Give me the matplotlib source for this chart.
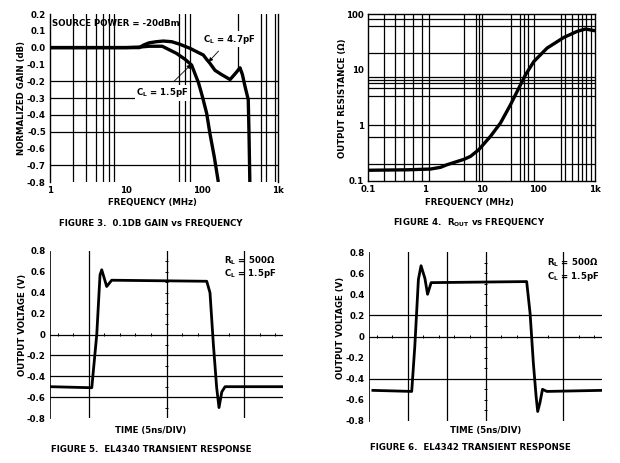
import matplotlib
matplotlib.use("Agg")
import matplotlib.pyplot as plt
import numpy as np

plt.rcParams['font.family'] = ['DejaVu Sans']
plt.rcParams['font.weight'] = 'bold'
plt.rcParams['mathtext.fontset'] = 'dejavusans'
plt.rcParams['mathtext.default'] = 'bf'

# ---------------- data ----------------
# Figure 3: normalized gain vs frequency
freq_15 = [1, 5, 10, 15, 20, 30, 46, 60, 73, 90, 101, 115, 127, 145, 164]
gain_15 = [0.0, 0.0, 0.0, 0.003, 0.008, 0.008, -0.034, -0.07, -0.104, -0.21, -0.29, -0.39, -0.51, -0.65, -0.80]
freq_47 = [1, 10, 15, 17, 20, 25, 31, 40, 51, 70, 90, 104, 115, 127, 148, 180, 234, 280, 316, 340, 369, 406, 415, 426]
gain_47 = [0.0, 0.0, 0.0, 0.015, 0.028, 0.035, 0.039, 0.035, 0.02, -0.005, -0.03, -0.044, -0.07, -0.093, -0.135,
           -0.16, -0.19, -0.15, -0.12, -0.16, -0.233, -0.31, -0.5, -0.80]
gain_yticks = [0.2, 0.1, 0.0, -0.1, -0.2, -0.3, -0.4, -0.5, -0.6, -0.7, -0.8]
freq_ticks = [1, 10, 100, 1000]
freq_ticklabels = ['1', '10', '100', '1k']

# Figure 4: output resistance vs frequency
rout_freq = [0.1, 0.5, 1.26, 1.89, 2.47, 3.47, 4.9, 6.4, 8.95, 14.4, 21.6, 32.4, 45.5, 59.7, 83.6, 143, 283, 486, 682, 1000]
rout_ohm = [0.156, 0.159, 0.164, 0.176, 0.196, 0.219, 0.245, 0.277, 0.365, 0.635, 1.1, 2.34, 4.68, 8.1, 14.0,
            24.4, 38.0, 48.8, 53.7, 50.0]
rout_xticks = [0.1, 1, 10, 100, 1000]
rout_xticklabels = ['0.1', '1', '10', '100', '1k']
rout_yticks = [0.1, 1, 10, 100]
rout_yticklabels = ['0.1', '1', '10', '100']

# Figure 5: EL4340 transient (time in ns, volts)
t_4340 = [0, 2.69, 3.01, 3.22, 3.33, 3.45, 3.65, 3.97, 10.09, 10.3, 10.52, 10.73, 10.88, 11.06, 11.27, 15]
v_4340 = [-0.5, -0.51, 0.0, 0.57, 0.62, 0.56, 0.46, 0.52, 0.51, 0.40, -0.1, -0.51, -0.70, -0.55, -0.5, -0.5]

# Figure 6: EL4342 transient
t_4342 = [0.25, 2.75, 2.95, 3.18, 3.35, 3.6, 3.77, 4.0, 10.15, 10.37, 10.58, 10.76, 10.86, 11.0, 11.17, 11.45, 14.98]
v_4342 = [-0.51, -0.52, -0.09, 0.54, 0.67, 0.55, 0.40, 0.51, 0.52, 0.22, -0.25, -0.57, -0.71, -0.63, -0.50, -0.52, -0.51]
volt_ticks = [0.8, 0.6, 0.4, 0.2, 0, -0.2, -0.4, -0.6, -0.8]
volt_ticklabels = ['0.8', '0.6', '0.4', '0.2', '0', '-0.2', '-0.4', '-0.6', '-0.8']

FS = 6.2
LW_GRID = 0.9

fig = plt.figure(figsize=(6.2, 4.63), dpi=100)

def fx(px):
    return px / 620.0

def fy(py):
    return 1 - py / 463.0

def axes_px(l, t, r, b):
    return fig.add_axes([fx(l), fy(b), (r - l) / 620.0, (b - t) / 463.0])

# ---------- Figure 3 ----------
ax1 = axes_px(50, 14, 278, 182)
ax1.set_xscale('log')
ax1.set_xlim(1, 1000)
ax1.set_ylim(-0.8, 0.2)
for x in [2, 3, 4, 5, 6, 7, 50, 60, 70, 600, 700, 900]:
    ax1.axvline(x, color='black', lw=LW_GRID, zorder=1)
ax1.axvline(300, ymin=0.68, ymax=1.0, color='black', lw=LW_GRID, zorder=1)
for y in [-0.2, -0.3, -0.4, -0.5, -0.7]:
    ax1.axhline(y, color='black', lw=LW_GRID, zorder=1)
ax1.plot(freq_15, gain_15, color='black', lw=2.4, zorder=3, solid_capstyle='butt')
ax1.plot(freq_47, gain_47, color='black', lw=2.4, zorder=3, solid_capstyle='butt')
ax1.set_xticks(freq_ticks)
ax1.set_xticklabels(freq_ticklabels)
ax1.set_yticks(gain_yticks)
ax1.set_yticklabels(['%.1f' % v for v in gain_yticks])
ax1.minorticks_off()
ax1.tick_params(length=0, labelsize=FS, pad=3)
for s in ['top', 'bottom']:
    ax1.spines[s].set_visible(False)
for s in ['left', 'right']:
    ax1.spines[s].set_linewidth(1.0)
ax1.text(1.05, 0.145, 'SOURCE POWER = -20dBm', fontsize=FS, fontweight='bold', va='center', ha='left',
         zorder=5)
ax1.annotate(r'C$_\mathbf{L}$ = 4.7pF', xy=(122, -0.085), xytext=(230, 0.05),
             fontsize=FS, fontweight='bold', ha='center', va='center',
             bbox=dict(boxstyle='square,pad=0.15', fc='white', ec='none'),
             arrowprops=dict(arrowstyle='-|>', color='black', lw=0.6, mutation_scale=6,
                             shrinkA=4, shrinkB=0), zorder=5)
ax1.annotate(r'C$_\mathbf{L}$ = 1.5pF', xy=(72, -0.10), xytext=(30, -0.27),
             fontsize=FS, fontweight='bold', ha='center', va='center',
             bbox=dict(boxstyle='square,pad=0.15', fc='white', ec='none'),
             arrowprops=dict(arrowstyle='-|>', color='black', lw=0.6, mutation_scale=6,
                             shrinkA=4, shrinkB=0), zorder=5)
fig.text(fx(22), fy(98), 'NORMALIZED GAIN (dB)', rotation=90, fontsize=FS, fontweight='bold',
         ha='center', va='center')
fig.text(fx(152), fy(202), 'FREQUENCY (MHz)', fontsize=FS, fontweight='bold', ha='center', va='center')
fig.text(fx(151), fy(223), 'FIGURE 3.  0.1DB GAIN vs FREQUENCY', fontsize=FS, fontweight='bold',
         ha='center', va='center')

# ---------- Figure 4 ----------
ax2 = axes_px(368, 14, 595, 181)
ax2.set_xscale('log')
ax2.set_yscale('log')
ax2.set_xlim(0.1, 1000)
ax2.set_ylim(0.1, 100)
for x in [0.19, 0.3, 0.43, 0.62, 0.9, 1.2, 5, 8, 9, 10, 33, 47, 55, 65, 85, 250, 300, 400, 500, 600, 700, 850]:
    ax2.axvline(x, color='black', lw=LW_GRID, zorder=1)
for y in [83, 62, 20, 7.5, 6.5, 5.7, 4.7, 3.3, 1, 0.63, 0.2]:
    ax2.axhline(y, color='black', lw=LW_GRID, zorder=1)
ax2.plot(rout_freq, rout_ohm, color='black', lw=2.4, zorder=3)
ax2.set_xticks(rout_xticks)
ax2.set_xticklabels(rout_xticklabels)
ax2.set_yticks(rout_yticks)
ax2.set_yticklabels(rout_yticklabels)
ax2.minorticks_off()
ax2.tick_params(length=0, labelsize=FS, pad=3)
for s in ax2.spines.values():
    s.set_linewidth(1.0)
fig.text(fx(342), fy(98), 'OUTPUT RESISTANCE (\u03a9)', rotation=90, fontsize=FS, fontweight='bold',
         ha='center', va='center')
fig.text(fx(469), fy(202), 'FREQUENCY (MHz)', fontsize=FS, fontweight='bold', ha='center', va='center')
fig.text(fx(469), fy(223), r'FIGURE 4.  R$_\mathbf{OUT}$ vs FREQUENCY', fontsize=FS, fontweight='bold',
         ha='center', va='center')

# ---------- transient helper ----------
def scope(ax, vlines, hlines):
    ax.set_xlim(0, 15)
    ax.set_ylim(-0.8, 0.8)
    for x in vlines:
        ax.axvline(x, color='black', lw=LW_GRID, zorder=1)
    for y in hlines:
        ax.axhline(y, color='black', lw=LW_GRID, zorder=1)
    # small scope graticule marks on the centre lines
    ax.hlines(np.arange(-0.7, 0.75, 0.1), 7.5 - 0.1, 7.5 + 0.1, color='black', lw=0.7, zorder=1)
    ax.vlines(np.arange(0.5, 15, 1.0), -0.012, 0.012, color='black', lw=0.7, zorder=1)
    ax.set_xticks([])
    ax.set_yticks(volt_ticks)
    ax.set_yticklabels(volt_ticklabels)
    ax.tick_params(length=0, labelsize=FS, pad=3)
    for s in ['top', 'bottom', 'right']:
        ax.spines[s].set_visible(False)
    ax.spines['left'].set_linewidth(0.6)

# ---------- Figure 5 ----------
ax3 = axes_px(50, 251, 283, 418)
scope(ax3, [2.5, 7.5, 12.5], [0, -0.2, -0.4, -0.6])
ax3.plot(t_4340, v_4340, color='black', lw=2.0, zorder=3)
ax3.text(11.2, 0.71, r'R$_\mathbf{L}$ = 500$\mathbf{\Omega}$', fontsize=FS, fontweight='bold',
         ha='left', va='center')
ax3.text(11.2, 0.585, r'C$_\mathbf{L}$ = 1.5pF', fontsize=FS, fontweight='bold', ha='left', va='center')
fig.text(fx(23), fy(325), 'OUTPUT VOLTAGE (V)', rotation=90, fontsize=FS, fontweight='bold',
         ha='center', va='center')
fig.text(fx(151), fy(430), 'TIME (5ns/DIV)', fontsize=FS, fontweight='bold', ha='center', va='center')
fig.text(fx(151), fy(449), 'FIGURE 5.  EL4340 TRANSIENT RESPONSE', fontsize=FS, fontweight='bold',
         ha='center', va='center')

# ---------- Figure 6 ----------
ax4 = axes_px(369, 252, 602, 421)
scope(ax4, [2.5, 5.0, 7.5, 12.5], [0.2, 0, -0.4])
ax4.plot(t_4342, v_4342, color='black', lw=2.0, zorder=3)
ax4.text(11.45, 0.695, r'R$_\mathbf{L}$ = 500$\mathbf{\Omega}$', fontsize=FS, fontweight='bold',
         ha='left', va='center')
ax4.text(11.45, 0.57, r'C$_\mathbf{L}$ = 1.5pF', fontsize=FS, fontweight='bold', ha='left', va='center')
fig.text(fx(341), fy(328), 'OUTPUT VOLTAGE (V)', rotation=90, fontsize=FS, fontweight='bold',
         ha='center', va='center')
fig.text(fx(486), fy(431), 'TIME (5ns/DIV)', fontsize=FS, fontweight='bold', ha='center', va='center')
fig.text(fx(470), fy(448), 'FIGURE 6.  EL4342 TRANSIENT RESPONSE', fontsize=FS, fontweight='bold',
         ha='center', va='center')

fig.savefig('out.png', dpi=100, facecolor='white')
